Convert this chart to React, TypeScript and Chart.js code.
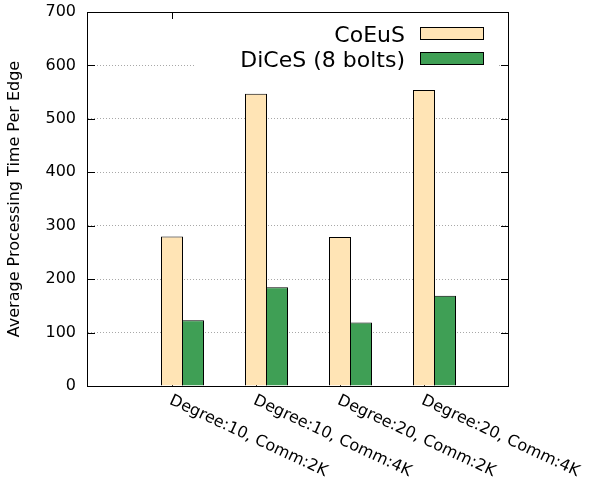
import React, { useEffect, useRef } from 'react';
import { Chart, registerables } from 'chart.js';

Chart.register(...registerables);

const categories = [
  'Degree:10, Comm:2K',
  'Degree:10, Comm:4K',
  'Degree:20, Comm:2K',
  'Degree:20, Comm:4K',
];
const coeusValues = [280, 547, 279, 554];
const dicesValues = [123, 185, 119, 169];
const seriesNames = ['CoEuS', 'DiCeS (8 bolts)'];
const seriesColors = ['#ffe4b5', '#3f9f55'];
const yTickValues = [0, 100, 200, 300, 400, 500, 600, 700];
const yAxisTitle = 'Average Processing Time Per Edge';

const FONT = "'DejaVu Sans', sans-serif";

const gnuplotPlugin = {
  id: 'gnuplotLook',
  beforeDatasetsDraw(chart: any) {
    const { ctx, chartArea: a, scales } = chart;
    const ys = scales.y;
    const xs = scales.x;
    ctx.save();
    ctx.strokeStyle = '#000';
    ctx.lineWidth = 1;
    ctx.setLineDash([]);
    ctx.beginPath();
    for (const v of yTickValues) {
      const py = Math.round(ys.getPixelForValue(v)) + 0.5;
      ctx.moveTo(a.left, py);
      ctx.lineTo(a.left + 7, py);
      ctx.moveTo(a.right, py);
      ctx.lineTo(a.right - 7, py);
    }
    categories.forEach((_, i) => {
      const px = Math.round(xs.getPixelForValue(i + 1)) + 0.5;
      ctx.moveTo(px, a.top);
      ctx.lineTo(px, a.top + 7);
      ctx.moveTo(px, a.bottom);
      ctx.lineTo(px, a.bottom - 7);
    });
    ctx.stroke();
    ctx.restore();
  },
  afterDatasetsDraw(chart: any) {
    const { ctx, chartArea: a } = chart;
    ctx.save();
    // legend (key) with opaque background
    ctx.fillStyle = '#fff';
    ctx.fillRect(a.left + 106, a.top + 1, a.right - 11 - (a.left + 106), 66);
    ctx.font = `22px ${FONT}`;
    ctx.textAlign = 'right';
    ctx.textBaseline = 'alphabetic';
    seriesNames.forEach((name, i) => {
      const cy = a.top + 21 + i * 25;
      const keyRight = a.right - 24;
      const keyLeft = keyRight - 64;
      ctx.fillStyle = '#000';
      ctx.fillText(name, keyLeft - 15, cy + 8.5);
      ctx.fillStyle = seriesColors[i];
      ctx.fillRect(keyLeft, cy - 6, 64, 13);
      ctx.strokeStyle = '#000';
      ctx.lineWidth = 1;
      ctx.strokeRect(keyLeft + 0.5, cy - 6 + 0.5, 63, 12);
    });
    // frame
    ctx.strokeStyle = '#000';
    ctx.lineWidth = 1;
    ctx.strokeRect(a.left - 0.5, a.top + 0.5, a.right - a.left + 1, a.bottom - a.top);
    ctx.restore();
  },
  afterDraw(chart: any) {
    const { ctx, chartArea: a, scales } = chart;
    const xs = scales.x;
    ctx.save();
    ctx.font = `16px ${FONT}`;
    ctx.fillStyle = '#000';
    ctx.textAlign = 'left';
    ctx.textBaseline = 'alphabetic';
    categories.forEach((label, i) => {
      const px = xs.getPixelForValue(i + 1);
      ctx.save();
      ctx.translate(px - 3.5, a.bottom + 17.5);
      ctx.rotate((25 * Math.PI) / 180);
      ctx.fillText(label, 0, 0);
      ctx.restore();
    });
    ctx.restore();
  },
};

export default function App() {
  const canvasRef = useRef<HTMLCanvasElement | null>(null);

  useEffect(() => {
    document.body.style.margin = '0';
    const canvas = canvasRef.current;
    if (!canvas) return;
    Chart.defaults.font.family = FONT;
    Chart.defaults.color = '#000';

    const labels = ['', ...categories, ''];
    const pad = (arr: number[]) => [null, ...arr, null];

    const chart = new Chart(canvas, {
      type: 'bar',
      data: {
        labels,
        datasets: [
          {
            label: '',
            data: labels.map(() => null),
            backgroundColor: 'rgba(0,0,0,0)',
          },
          {
            label: seriesNames[0],
            data: pad(coeusValues),
            backgroundColor: seriesColors[0],
            borderColor: '#000',
            borderWidth: 1,
            inflateAmount: 0,
          },
          {
            label: seriesNames[1],
            data: pad(dicesValues),
            backgroundColor: seriesColors[1],
            borderColor: '#000',
            borderWidth: 1,
            inflateAmount: 0,
          },
        ],
      },
      options: {
        animation: false,
        responsive: false,
        devicePixelRatio: 1,
        categoryPercentage: 0.75,
        barPercentage: 22 / 21,
        layout: { padding: { left: 0, top: 12, right: 81, bottom: 0 } },
        plugins: {
          legend: { display: false },
          tooltip: { enabled: false },
        },
        scales: {
          x: {
            offset: false,
            grid: { display: false, drawTicks: false },
            border: { display: false },
            ticks: { display: false },
            afterFit: (s: any) => {
              s.height = 93;
            },
          },
          y: {
            min: 0,
            max: 700,
            afterBuildTicks: (s: any) => {
              s.ticks = yTickValues.map((v) => ({ value: v }));
            },
            grid: {
              color: '#a8a8a8',
              lineWidth: 1,
              drawTicks: true,
              tickLength: 12,
              tickColor: 'rgba(0,0,0,0)',
            },
            border: { display: false, dash: [1, 2] },
            ticks: {
              padding: 0,
              color: '#000',
              font: { size: 16, family: FONT },
            },
            title: {
              display: true,
              text: yAxisTitle,
              color: '#000',
              font: { size: 16, family: FONT },
              padding: { top: 5, bottom: 0 },
            },
            afterFit: (s: any) => {
              s.width = 88;
            },
          },
        },
      },
      plugins: [gnuplotPlugin],
    } as any);

    return () => chart.destroy();
  }, []);

  return <canvas ref={canvasRef} width={589} height={479} />;
}
